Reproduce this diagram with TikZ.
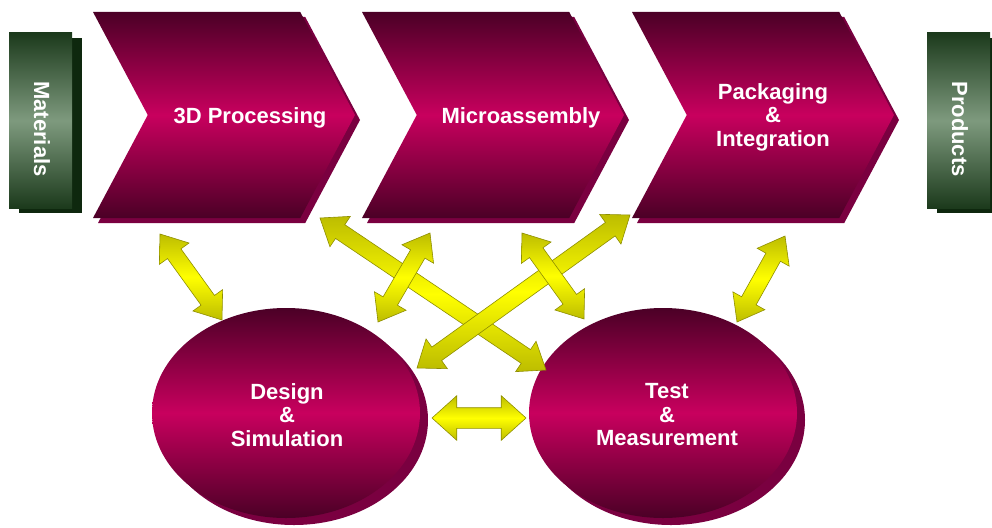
\documentclass[tikz,border=0pt]{standalone}
\usepackage{fontspec}
\setmainfont{Liberation Sans}
\usetikzlibrary{shapes.symbols,shapes.arrows,shapes.geometric,shadows,calc}
\definecolor{mdark}{HTML}{4B0026}
\definecolor{mmid}{HTML}{C8005E}
\definecolor{mside}{HTML}{7A0040}
\definecolor{gdark}{HTML}{1C3A1C}
\definecolor{gmid}{HTML}{7E9A7E}
\definecolor{gside}{HTML}{0E280E}
\definecolor{yedge}{HTML}{BDBD00}
\definecolor{ymid}{HTML}{FFFF00}
\definecolor{yline}{HTML}{8E8E00}
\tikzset{
  lbl/.style={text=white, font=\fontsize{22}{23.5}\selectfont\bfseries, align=center, inner sep=0pt},
  chev/.style={shape=signal, signal to=east, signal from=west, signal pointer angle=124,
    minimum width=262pt, minimum height=206pt, inner sep=0pt,
    top color=mdark, bottom color=mdark, middle color=mmid,
    general shadow={fill=mside, shadow xshift=5pt, shadow yshift=-5pt}},
  oval/.style={shape=ellipse, minimum width=268pt, minimum height=210pt, inner sep=0pt,
    top color=mdark, bottom color=mdark, middle color=mmid,
    general shadow={fill=mside, shadow xshift=8pt, shadow yshift=-7pt}},
  gbox/.style={shape=rectangle, minimum width=63pt, minimum height=175pt, inner sep=0pt,
    top color=gdark, bottom color=gdark, middle color=gmid,
    general shadow={fill=gside, shadow xshift=10pt, shadow yshift=-5pt}},
  yarrow/.style={shape=double arrow, double arrow head extend=10pt, double arrow tip angle=74,
    inner xsep=0pt, inner ysep=8pt, draw=yline, line width=0.6pt,
    top color=yedge, bottom color=yedge, middle color=ymid},
  bigarrow/.style={yarrow, inner ysep=10pt, double arrow head extend=12pt, double arrow tip angle=84}
}
\newcommand\yarr[3][]{%
  \path let \p1=(#2), \p2=(#3), \n1={atan2(\y2-\y1,\x2-\x1)}, \n2={veclen(\x2-\x1,\y2-\y1)} in
    node[yarrow, #1, rotate=\n1, minimum height=\n2] at ($(\p1)!0.5!(\p2)$) {};}
\begin{document}
\begin{tikzpicture}[x=1pt,y=-1pt]
\useasboundingbox (0,0) rectangle (992,527);
\clip (0,0) rectangle (992,527);
% green boxes
\node[gbox] (mat) at (40.5,120.5) {};
\node[lbl, rotate=-90] (matt) at (42,129) {Materials};
\node[gbox] (prod) at (958.5,120.5) {};
\node[lbl, rotate=-90] (prodt) at (960,129) {Products};
% chevrons
\node[chev] (p1) at (224,115) {};
\node[chev] (p2) at (493,115) {};
\node[chev] (p3) at (763,115) {};
\node[lbl] (p1t) at (250,118) {3D Processing};
\node[lbl] (p2t) at (521,118) {Microassembly};
\node[lbl] (p3t) at (773,117) {Packaging\\\&\\Integration};
% ovals
\node[oval] (ds) at (286,413) {};
\node[oval] (tm) at (663,413) {};
\node[lbl] (dst) at (287,415) {Design\\\&\\Simulation};
\node[lbl] (tmt) at (667,415) {Test\\\&\\Measurement};
% arrow end points
\coordinate (a1s) at (160,234); \coordinate (a1e) at (222,320);
\coordinate (a2s) at (320,218); \coordinate (a2e) at (546,370);
\coordinate (a3s) at (430,233); \coordinate (a3e) at (378,322);
\coordinate (a4s) at (630,215); \coordinate (a4e) at (417,368);
\coordinate (a5s) at (522,233); \coordinate (a5e) at (584,319);
\coordinate (a6s) at (785,236); \coordinate (a6e) at (737,322);
\coordinate (a7s) at (432,418); \coordinate (a7e) at (526,418);
\yarr{a1s}{a1e}
\yarr{a2s}{a2e}
\yarr{a4s}{a4e}
\yarr{a3s}{a3e}
\yarr{a5s}{a5e}
\yarr{a6s}{a6e}
\yarr[bigarrow]{a7s}{a7e}
\end{tikzpicture}
\end{document}
